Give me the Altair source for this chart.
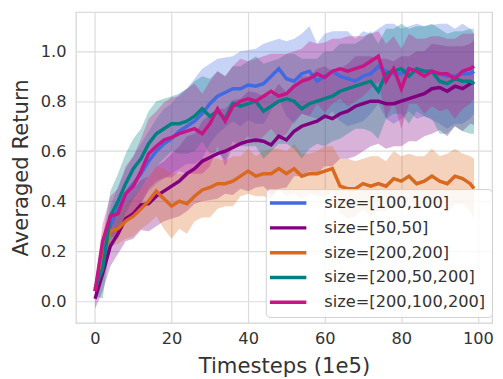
import altair as alt
import pandas as pd

T = list(range(0, 100, 2)) + [99]

SERIES = ["size=[100,100]", "size=[50,50]", "size=[200,200]",
          "size=[200,50,200]", "size=[200,100,200]"]
COLORS = ["#4169E1", "#800080", "#D9691E", "#008080", "#C71585"]

blue_mean = [0.04, 0.17, 0.30, 0.37, 0.43, 0.47, 0.51, 0.56, 0.60, 0.63,
             0.65, 0.68, 0.70, 0.72, 0.75, 0.79, 0.82, 0.835, 0.85, 0.85,
             0.865, 0.86, 0.87, 0.90, 0.93, 0.89, 0.88, 0.91, 0.92, 0.88,
             0.90, 0.92, 0.90, 0.89, 0.88, 0.90, 0.91, 0.94, 0.92, 0.91,
             0.91, 0.93, 0.92, 0.92, 0.915, 0.91, 0.90, 0.90, 0.91, 0.91, 0.92]
purple_mean = [0.01, 0.11, 0.22, 0.27, 0.33, 0.35, 0.385, 0.39, 0.42, 0.44,
               0.46, 0.48, 0.51, 0.53, 0.56, 0.575, 0.59, 0.60, 0.615, 0.63,
               0.64, 0.645, 0.64, 0.625, 0.66, 0.645, 0.68, 0.70, 0.71, 0.72,
               0.74, 0.73, 0.75, 0.76, 0.78, 0.79, 0.80, 0.80, 0.79, 0.79,
               0.80, 0.81, 0.82, 0.83, 0.85, 0.855, 0.84, 0.86, 0.85, 0.87, 0.875]
orange_mean = [0.04, 0.17, 0.28, 0.29, 0.32, 0.34, 0.37, 0.40, 0.44, 0.41,
               0.38, 0.40, 0.39, 0.42, 0.445, 0.455, 0.47, 0.47, 0.48, 0.50,
               0.52, 0.50, 0.51, 0.51, 0.53, 0.51, 0.53, 0.50, 0.51, 0.51,
               0.52, 0.53, 0.46, 0.45, 0.45, 0.47, 0.46, 0.47, 0.46, 0.49,
               0.48, 0.50, 0.47, 0.48, 0.50, 0.48, 0.47, 0.50, 0.49, 0.47, 0.45]
teal_mean = [0.05, 0.13, 0.34, 0.40, 0.47, 0.53, 0.57, 0.63, 0.67, 0.69,
             0.71, 0.71, 0.72, 0.74, 0.77, 0.74, 0.76, 0.73, 0.79, 0.78,
             0.79, 0.80, 0.76, 0.78, 0.80, 0.81, 0.80, 0.77, 0.79, 0.80,
             0.81, 0.82, 0.84, 0.85, 0.86, 0.87, 0.88, 0.84, 0.91, 0.92,
             0.93, 0.90, 0.93, 0.92, 0.92, 0.88, 0.87, 0.89, 0.88, 0.88, 0.87]
pink_mean = [0.04, 0.24, 0.34, 0.35, 0.43, 0.46, 0.52, 0.59, 0.62, 0.645,
             0.655, 0.67, 0.68, 0.69, 0.67, 0.71, 0.77, 0.72, 0.78, 0.80,
             0.81, 0.80, 0.82, 0.84, 0.82, 0.83, 0.86, 0.88, 0.89, 0.91,
             0.895, 0.92, 0.93, 0.92, 0.93, 0.94, 0.96, 0.98, 0.88, 0.93,
             0.85, 0.93, 0.92, 0.90, 0.92, 0.91, 0.91, 0.89, 0.92, 0.93, 0.94]

blue_hw = [0.02, 0.06, 0.08, 0.09, 0.10, 0.11, 0.12, 0.12, 0.13, 0.14,
           0.14, 0.15, 0.15, 0.17, 0.18, 0.16, 0.15, 0.14, 0.13, 0.15,
           0.14, 0.15, 0.16, 0.14, 0.12, 0.15, 0.17, 0.16, 0.18, 0.15,
           0.17, 0.16, 0.18, 0.19, 0.17, 0.18, 0.16, 0.15, 0.19, 0.20,
           0.18, 0.17, 0.19, 0.18, 0.19, 0.20, 0.21, 0.19, 0.20, 0.18, 0.17]
purple_hw = [0.04, 0.07, 0.08, 0.08, 0.09, 0.10, 0.10, 0.11, 0.12, 0.12,
             0.13, 0.14, 0.15, 0.14, 0.16, 0.17, 0.18, 0.17, 0.19, 0.18,
             0.20, 0.19, 0.18, 0.20, 0.21, 0.19, 0.18, 0.20, 0.19, 0.21,
             0.20, 0.19, 0.18, 0.19, 0.20, 0.19, 0.18, 0.17, 0.18, 0.17,
             0.18, 0.17, 0.18, 0.17, 0.18, 0.17, 0.18, 0.16, 0.17, 0.16, 0.17]
orange_hw = [0.02, 0.05, 0.06, 0.06, 0.07, 0.08, 0.08, 0.09, 0.10, 0.12,
             0.13, 0.11, 0.12, 0.10, 0.11, 0.12, 0.10, 0.09, 0.10, 0.08,
             0.09, 0.08, 0.09, 0.10, 0.08, 0.09, 0.10, 0.09, 0.08, 0.09,
             0.10, 0.09, 0.11, 0.12, 0.11, 0.10, 0.12, 0.11, 0.10, 0.11,
             0.10, 0.09, 0.11, 0.10, 0.11, 0.10, 0.12, 0.11, 0.10, 0.11, 0.12]
teal_hw = [0.03, 0.12, 0.10, 0.11, 0.12, 0.12, 0.12, 0.13, 0.13, 0.12,
           0.11, 0.12, 0.13, 0.14, 0.13, 0.15, 0.16, 0.17, 0.15, 0.16,
           0.17, 0.18, 0.19, 0.18, 0.17, 0.18, 0.19, 0.20, 0.18, 0.17,
           0.19, 0.18, 0.19, 0.18, 0.17, 0.18, 0.20, 0.19, 0.18, 0.17,
           0.18, 0.19, 0.17, 0.18, 0.19, 0.21, 0.20, 0.19, 0.20, 0.21, 0.20]
pink_hw = [0.03, 0.07, 0.08, 0.10, 0.11, 0.12, 0.13, 0.14, 0.14, 0.15,
           0.16, 0.15, 0.17, 0.18, 0.16, 0.17, 0.15, 0.18, 0.16, 0.17,
           0.15, 0.17, 0.16, 0.15, 0.17, 0.16, 0.14, 0.13, 0.15, 0.12,
           0.14, 0.13, 0.12, 0.14, 0.13, 0.12, 0.11, 0.10, 0.15, 0.13,
           0.16, 0.14, 0.13, 0.15, 0.14, 0.15, 0.14, 0.16, 0.15, 0.14, 0.13]

means = [blue_mean, purple_mean, orange_mean, teal_mean, pink_mean]
hws = [blue_hw, purple_hw, orange_hw, teal_hw, pink_hw]

rows = []
for s, m, h in zip(SERIES, means, hws):
    for t, mv, hv in zip(T, m, h):
        rows.append({"series": s, "t": t, "mean": mv, "lo": mv - hv, "hi": mv + hv})
df = pd.DataFrame(rows)

FONT = "DejaVu Sans"
xs = alt.Scale(domain=[-5.0, 103.7], nice=False, zero=False)
ys = alt.Scale(domain=[-0.087, 1.157], nice=False, zero=False)
cs = alt.Scale(domain=SERIES, range=COLORS)

xaxis = alt.Axis(title="Timesteps (1e5)", values=[0, 20, 40, 60, 80, 100],
                 format="d", tickSize=0, labelPadding=8, titlePadding=9,
                 domain=False)
yaxis = alt.Axis(title="Averaged Return", values=[0.0, 0.2, 0.4, 0.6, 0.8, 1.0],
                 format=".1f", tickSize=0, labelPadding=10, titlePadding=8,
                 domain=False)

base = alt.Chart(df)
bands = base.mark_area(opacity=0.3, clip=True).encode(
    x=alt.X("t:Q", scale=xs, axis=xaxis),
    y=alt.Y("lo:Q", scale=ys, axis=yaxis),
    y2="hi:Q",
    color=alt.Color("series:N", scale=cs, sort=SERIES, legend=None),
)
lines = base.mark_line(strokeWidth=3.5, clip=True).encode(
    x=alt.X("t:Q", scale=xs),
    y=alt.Y("mean:Q", scale=ys),
    color=alt.Color("series:N", scale=cs, sort=SERIES,
                    legend=alt.Legend(title=None, orient="none",
                                      legendX=193, legendY=180)),
)

chart = alt.layer(bands, lines).resolve_legend(color="independent").properties(
    width=423, height=316,
    autosize=alt.AutoSizeParams(type="none"),
    padding={"left": 69, "top": 1, "right": 3, "bottom": 54},
).configure(font=FONT).configure_view(
    stroke="#d4d4d4", strokeWidth=1.2
).configure_axis(
    grid=True, gridColor="#dcdcdc", gridWidth=1.2,
    labelFont=FONT, labelFontSize=16.5, labelColor="#333333",
    titleFont=FONT, titleFontSize=21.5, titleFontWeight="normal", titleColor="#333333",
).configure_legend(
    symbolType="M-5,0L13.5,0", symbolSize=16, symbolStrokeWidth=3.5,
    symbolOpacity=1,
    labelFont=FONT, labelFontSize=16.5, labelColor="#333333", labelLimit=400,
    labelOffset=37, fillColor="rgba(255,255,255,0.82)", strokeColor="#d0d0d0",
    cornerRadius=4, padding=6, rowPadding=8.2, labelBaseline="middle",
)

chart.save("out.html", embed_options={"renderer": "svg", "actions": False})
